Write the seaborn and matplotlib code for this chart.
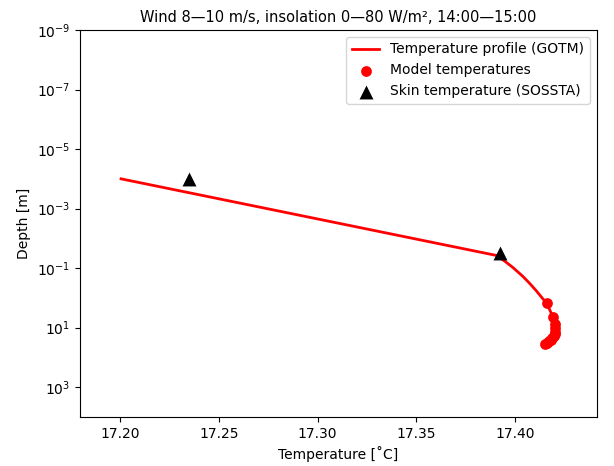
import numpy as np
import matplotlib
matplotlib.use("Agg")
import matplotlib.pyplot as plt
import seaborn as sns

# GOTM temperature profile (temperature in degC, depth in m)
profile_temp = [17.2005, 17.3908, 17.3947, 17.3989, 17.4040, 17.4075, 17.4108,
                17.4136, 17.4160, 17.4193, 17.4200, 17.4203, 17.4202, 17.4200,
                17.4195, 17.4187, 17.4180, 17.4172, 17.4162, 17.4152]
profile_depth = [1.0e-4, 0.0377, 0.0577, 0.095, 0.19, 0.33, 0.58,
                 0.98, 1.5, 4.5, 7.5, 10.5, 13.5, 16.5,
                 19.5, 22.5, 25.5, 28.5, 31.5, 34.5]

# Model temperatures at grid cell centres
model_temp = [17.4160, 17.4193, 17.4200, 17.4203, 17.4202, 17.4200,
              17.4195, 17.4187, 17.4180, 17.4172, 17.4162, 17.4152]
model_depth = [1.5, 4.5, 7.5, 10.5, 13.5, 16.5, 19.5, 22.5, 25.5, 28.5, 31.5, 34.5]

# SOSSTA skin temperatures
skin_temp = [17.235, 17.3924]
skin_depth = [1.0e-4, 0.032]

y_ticks = [1e-9, 1e-7, 1e-5, 1e-3, 1e-1, 1e1, 1e3]
x_ticks = [17.20, 17.25, 17.30, 17.35, 17.40]

fig = plt.figure(figsize=(6.14, 4.66), dpi=100)
ax = fig.add_axes([80 / 614, 1 - 417 / 466, (597 - 80) / 614, (417 - 30) / 466])

sns.lineplot(x=profile_temp, y=profile_depth, sort=False, estimator=None,
             color="red", linewidth=2, label="Temperature profile (GOTM)", ax=ax)
sns.scatterplot(x=model_temp, y=model_depth, color="red", s=60, linewidth=0,
                label="Model temperatures", ax=ax, zorder=3)
sns.scatterplot(x=skin_temp, y=skin_depth, color="black", marker="^", s=100,
                linewidth=0, label="Skin temperature (SOSSTA)", ax=ax, zorder=4)

ax.set_yscale("log")
ax.set_ylim(1e4, 1e-9)
ax.set_yticks(y_ticks)
ax.yaxis.set_minor_locator(matplotlib.ticker.NullLocator())
ax.set_xlim(17.1797, 17.4415)
ax.set_xticks(x_ticks)
ax.set_xticklabels([f"{t:.2f}" for t in x_ticks])

ax.set_xlabel("Temperature [˚C]", fontsize=10)
ax.set_ylabel("Depth [m]", fontsize=10)
ax.set_title("Wind 8—10 m/s, insolation 0—80 W/m², 14:00—15:00", fontsize=10.5)
ax.tick_params(labelsize=10)
ax.legend(loc="upper right", fontsize=10)

fig.savefig("out.png", dpi=100)
